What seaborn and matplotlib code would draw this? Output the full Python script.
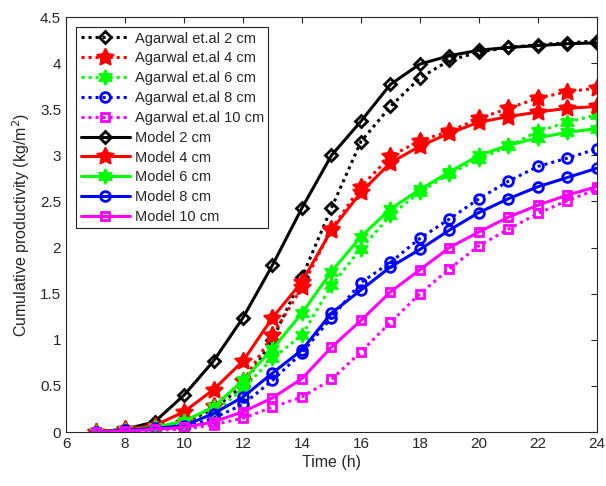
import matplotlib
matplotlib.use("Agg")
import matplotlib.pyplot as plt
import seaborn as sns
import numpy as np

hours = [7, 8, 9, 10, 11, 12, 13, 14, 15, 16, 17, 18, 19, 20, 21, 22, 23, 24]

agarwal_2 = [0, 0.02, 0.05, 0.10, 0.25, 0.50, 1.00, 1.68, 2.43, 3.15, 3.53, 3.84, 4.03, 4.12, 4.17, 4.20, 4.22, 4.24]
agarwal_4 = [0, 0.02, 0.04, 0.10, 0.28, 0.55, 1.05, 1.57, 2.20, 2.66, 2.99, 3.16, 3.26, 3.40, 3.51, 3.62, 3.69, 3.73]
agarwal_6 = [0, 0.02, 0.04, 0.08, 0.20, 0.47, 0.80, 1.05, 1.59, 1.99, 2.35, 2.60, 2.80, 2.96, 3.10, 3.26, 3.36, 3.44]
agarwal_8 = [0, 0.01, 0.03, 0.05, 0.15, 0.30, 0.56, 0.86, 1.24, 1.62, 1.84, 2.10, 2.31, 2.53, 2.72, 2.88, 2.97, 3.07]
agarwal_10 = [0, 0.01, 0.02, 0.03, 0.08, 0.15, 0.27, 0.38, 0.57, 0.87, 1.19, 1.50, 1.77, 2.02, 2.20, 2.37, 2.51, 2.63]

model_2 = [0, 0.03, 0.11, 0.40, 0.77, 1.24, 1.81, 2.43, 3.00, 3.37, 3.77, 3.99, 4.08, 4.14, 4.17, 4.19, 4.21, 4.22]
model_4 = [0, 0.03, 0.07, 0.22, 0.46, 0.77, 1.24, 1.63, 2.19, 2.60, 2.92, 3.10, 3.24, 3.36, 3.42, 3.47, 3.51, 3.53]
model_6 = [0, 0.02, 0.05, 0.12, 0.27, 0.56, 0.90, 1.29, 1.74, 2.12, 2.42, 2.63, 2.82, 3.00, 3.11, 3.19, 3.25, 3.29]
model_8 = [0, 0.02, 0.04, 0.07, 0.20, 0.38, 0.64, 0.89, 1.29, 1.54, 1.79, 1.98, 2.19, 2.38, 2.53, 2.66, 2.76, 2.86]
model_10 = [0, 0.01, 0.03, 0.05, 0.11, 0.22, 0.37, 0.58, 0.92, 1.21, 1.52, 1.76, 2.00, 2.17, 2.33, 2.46, 2.57, 2.66]

labels_agarwal = ["Agarwal et.al 2 cm", "Agarwal et.al 4 cm", "Agarwal et.al 6 cm",
                  "Agarwal et.al 8 cm", "Agarwal et.al 10 cm"]
labels_model = ["Model 2 cm", "Model 4 cm", "Model 6 cm", "Model 8 cm", "Model 10 cm"]
colors = ["#000000", "#ff0000", "#00ff00", "#0000ff", "#ff00ff"]
markers = ["D", (5, 1, 0), (6, 1, 0), "o", "s"]
msizes = [6, 13, 11, 7, 6]
mfill = [False, True, True, False, False]

sns.set_style("white")
plt.rcParams['font.family'] = ['Liberation Sans', 'DejaVu Sans']

fig = plt.figure(figsize=(6.06, 4.86), dpi=100)
ax = fig.add_axes([0.109, 0.111, 0.876, 0.854])

agarwal = [agarwal_2, agarwal_4, agarwal_6, agarwal_8, agarwal_10]
model = [model_2, model_4, model_6, model_8, model_10]

def draw(vals, lab, c, m, ms, fill, ls):
    sns.lineplot(x=hours, y=vals, ax=ax, color=c, linestyle=ls, linewidth=2.2,
                 marker=m, markersize=ms, markerfacecolor=(c if fill else 'none'),
                 markeredgecolor=c, markeredgewidth=(1.2 if fill else 2), label=lab)

for vals, lab, c, m, ms, f in zip(agarwal, labels_agarwal, colors, markers, msizes, mfill):
    draw(vals, lab, c, m, ms, f, (0, (1, 1.3)))
for vals, lab, c, m, ms, f in zip(model, labels_model, colors, markers, msizes, mfill):
    draw(vals, lab, c, m, ms, f, '-')

ax.set_xlim(6, 24)
ax.set_ylim(0, 4.5)
ax.set_xticks(np.arange(6, 25, 2))
ax.set_yticks(np.arange(0, 4.51, 0.5))
ax.set_yticklabels(["0", "0.5", "1", "1.5", "2", "2.5", "3", "3.5", "4", "4.5"])
ax.tick_params(direction='in', top=True, right=True, length=4, width=0.8,
               labelsize=11, colors='#262626')
for s in ax.spines.values():
    s.set_color('#262626')
    s.set_linewidth(0.8)
ax.set_xlabel("Time (h)", fontsize=11.5, color='#262626', labelpad=3)
ax.set_ylabel("Cumulative productivity (kg/m$^2$)", fontsize=11.5, color='#262626', labelpad=6)

leg = ax.legend(loc='upper left', fontsize=10.5, handlelength=3.4, labelspacing=0.4,
                borderaxespad=0.7, handletextpad=0.3, borderpad=0.3, fancybox=False,
                framealpha=1)
leg.get_frame().set_edgecolor('#262626')
leg.get_frame().set_linewidth(0.8)

fig.savefig("out.png", dpi=100)
